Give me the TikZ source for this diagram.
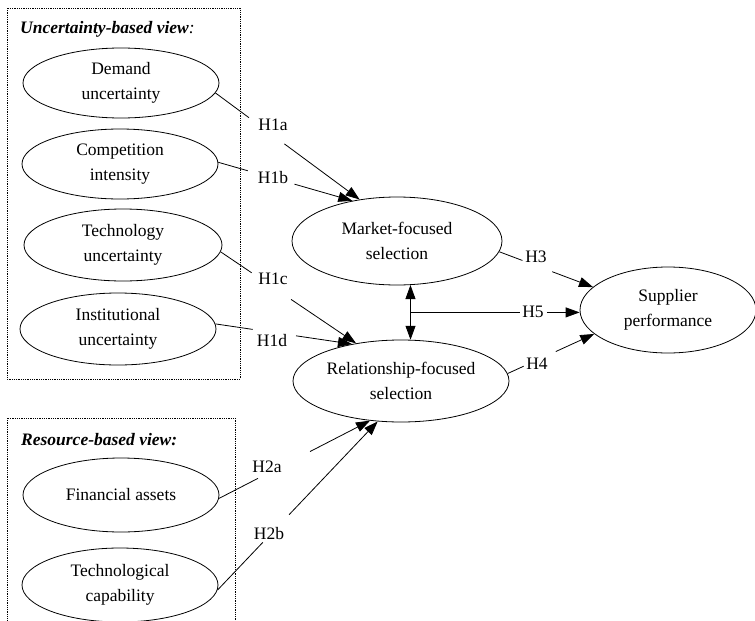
\documentclass[tikz,border=0pt]{standalone}
\usepackage{fontspec}
\setmainfont{Liberation Serif}
\usetikzlibrary{arrows.meta,shapes.geometric}
\tikzset{
  construct/.style={draw, ellipse, line width=0.8pt, inner sep=0pt, align=center,
    font=\fontsize{17.5}{25}\selectfont},
  hlabel/.style={inner sep=0pt, font=\fontsize{17.5}{21}\selectfont},
  viewtitle/.style={inner sep=0pt, anchor=base west, font=\fontsize{17.5}{21}\selectfont\bfseries\itshape},
  viewbox/.style={draw, line width=0.6pt, dash pattern=on 0.9pt off 0.9pt},
  conn/.style={line width=0.8pt},
  arr/.style={conn, -{Triangle[length=14pt,width=10pt]}},
  dbl/.style={conn, {Triangle[length=14pt,width=10pt]}-{Triangle[length=14pt,width=10pt]}},
}
\newcommand\hypline[4]{%
  \path (#1) -- (#2) coordinate[pos=#3] (gA) coordinate[pos=#4] (gB);
  \draw[conn] (#1) -- (gA);
  \draw[arr] (gB) -- (#2);}
\begin{document}
\begin{tikzpicture}[x=1pt,y=-1pt]
\useasboundingbox (0,0) rectangle (755,621);
% view boxes
\draw[viewbox] (7,8) rectangle (240,379);
\draw[viewbox] (7,418) rectangle (235,640);
\node[viewtitle] (t1) at (20,33) {Uncertainty-based view\textmd{:}};
\node[viewtitle] (t2) at (21,445) {Resource-based view:};
% constructs
\node[construct, minimum width=196pt, minimum height=70pt] (dem) at (121,83) {Demand\\uncertainty};
\node[construct, minimum width=196pt, minimum height=70pt] (comp) at (120,164) {Competition\\intensity};
\node[construct, minimum width=198pt, minimum height=72pt] (tech) at (123,245) {Technology\\uncertainty};
\node[construct, minimum width=196pt, minimum height=72pt] (inst) at (118,329) {Institutional\\uncertainty};
\node[construct, minimum width=196pt, minimum height=74pt] (fin) at (121,495) {Financial assets};
\node[construct, minimum width=196pt, minimum height=74pt] (tcap) at (120,585) {Technological\\capability};
\node[construct, minimum width=210pt, minimum height=88pt] (mkt) at (397,241) {Market-focused\\selection};
\node[construct, minimum width=216pt, minimum height=82pt] (rel) at (401,381) {Relationship-focused\\selection};
\node[construct, minimum width=176pt, minimum height=86pt] (sup) at (668,310) {Supplier\\performance};
% labels
\node[hlabel] (h1a) at (273,125) {H1a};
\node[hlabel] (h1b) at (273,178) {H1b};
\node[hlabel] (h1c) at (273,279) {H1c};
\node[hlabel] (h1d) at (272,341) {H1d};
\node[hlabel] (h3) at (536,257) {H3};
\node[hlabel] (h5) at (533,312) {H5};
\node[hlabel] (h4) at (537,364) {H4};
\node[hlabel] (h2a) at (267,467) {H2a};
\node[hlabel] (h2b) at (269,534) {H2b};
% connectors
\hypline{dem.-6}{mkt.132}{0.232}{0.478}
\hypline{comp.1}{mkt.138}{0.22}{0.568}
\hypline{tech.-4}{rel.140}{0.229}{0.52}
\hypline{inst.3.5}{rel.143.6}{0.273}{0.59}
\hypline{mkt.-6}{sup.163}{0.247}{0.565}
\hypline{rel.4.3}{sup.198}{0.185}{0.556}
\hypline{fin.-2}{rel.232.6}{0.258}{0.603}
\hypline{tcap.-3}{rel.240.3}{0.283}{0.447}
\draw[dbl] (mkt.-73.5) -- (rel.77.6) coordinate[midway] (mid);
\coordinate (h5end) at (mid -| sup.west);
\hypline{mid}{h5end}{0.647}{0.806}
\end{tikzpicture}
\end{document}
